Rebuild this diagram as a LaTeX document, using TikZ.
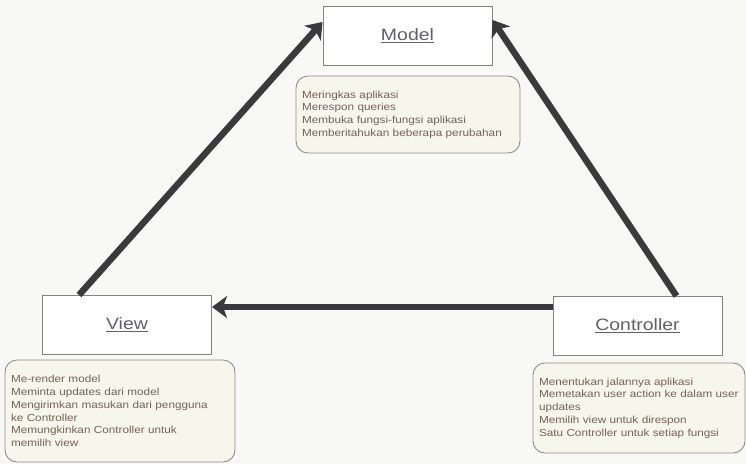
\documentclass[tikz,border=0pt]{standalone}
\usepackage{fontspec}
\setmainfont{Liberation Sans}
\newfontfamily\descfont[FakeStretch=1.15]{Liberation Sans}
\newfontfamily\labelfont[FakeStretch=1.18]{Liberation Sans}
\usetikzlibrary{arrows.meta,calc}
\definecolor{bgc}{RGB}{248,248,246}
\definecolor{boxline}{RGB}{130,130,130}
\definecolor{arrowc}{RGB}{58,58,60}
\definecolor{labelc}{RGB}{100,96,104}
\definecolor{descc}{RGB}{120,96,88}
\definecolor{descfill}{RGB}{246,246,236}
\begin{document}
\begin{tikzpicture}[x=1pt,y=-1pt,
  partbox/.style={draw=boxline,line width=1pt,fill=white,minimum width=169pt,
    minimum height=59pt,inner sep=0pt,font=\labelfont\fontsize{16.5}{18}\selectfont,text=labelc},
  descbox/.style={draw=boxline!90,line width=0.9pt,fill=descfill,rounded corners=12pt,
    inner xsep=6pt,inner ysep=0pt,align=left,text=descc,
    font=\descfont\fontsize{10.2}{12.7}\selectfont},
  flow/.style={draw=arrowc,line width=6.5pt,
    -{Stealth[length=15pt,width=22pt,inset=4pt]}}]
% page and its margins
\fill[bgc] (0,0) rectangle (746,464);
\useasboundingbox (0,0) rectangle (746,464);

% the three parts
\node[partbox] (model) at (407.5,35.5) {\underline{Model}};
\node[partbox] (view) at (127,325) {\underline{View}};
\node[partbox] (ctrl) at (637.5,326) {\underline{Controller}};

% their duties
\node[descbox,text width=212pt,minimum height=77pt] (modeldesc) at (408,114.5)
  {Meringkas aplikasi\\Merespon queries\\Membuka fungsi-fungsi aplikasi\\Memberitahukan beberapa perubahan};
\node[descbox,text width=218pt,minimum height=102pt] (viewdesc) at (120,411)
  {Me-render model\\Meminta updates dari model\\Mengirimkan masukan dari pengguna\\ke Controller\\Memungkinkan Controller untuk\\memilih view};
\node[descbox,text width=200pt,minimum height=90pt] (ctrldesc) at (639,408)
  {Menentukan jalannya aplikasi\\Memetakan user action ke dalam user\\updates\\Memilih view untuk direspon\\Satu Controller untuk setiap fungsi};

% connectors
\draw[flow] ([xshift=37pt]view.north west) -- ([yshift=13.5pt]model.west);
\draw[flow] ([xshift=39pt]ctrl.north) -- ([yshift=15.5pt]model.east);
\draw[flow] ([yshift=19pt]ctrl.west) -- ([yshift=18pt]view.east);
\end{tikzpicture}
\end{document}
